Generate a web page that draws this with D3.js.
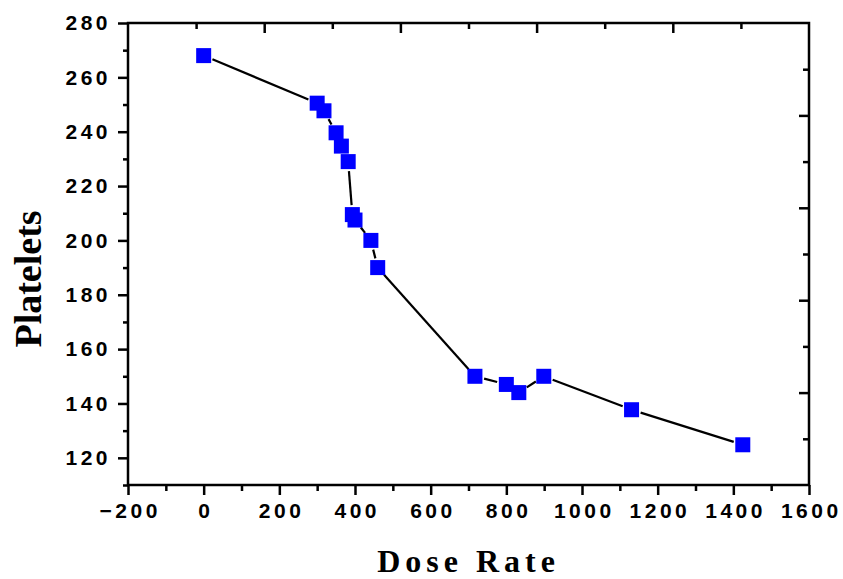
<!DOCTYPE html>
<html>
<head>
<meta charset="utf-8">
<script src="https://cdn.jsdelivr.net/npm/d3@7"></script>
<style>
  body { margin: 0; background: #fff; }
  svg { display: block; }
  .tick-label { font-family: "Liberation Sans", Arial, sans-serif; font-weight: bold; font-size: 21px; letter-spacing: 3.5px; fill: #000; }
  .axis-title { font-family: "Liberation Serif", "Times New Roman", serif; font-weight: bold; fill: #000; }
</style>
</head>
<body>
<div id="chart"></div>
<script>
"use strict";

// dose rate vs platelets
let doseRate = [0, 300, 318, 350, 364, 382, 393, 400, 442, 460, 717, 800, 833, 899, 1131, 1425];
let platelets = [268, 250.5, 247.7, 239.6, 234.7, 229, 209.5, 207.5, 200, 190, 150, 147, 144, 150, 137.7, 124.8];

let xTicks = [-200, 0, 200, 400, 600, 800, 1000, 1200, 1400, 1600];
let xMinorTicks = [-100, 100, 300, 500, 700, 900, 1100, 1300, 1500];
let yTicks = [120, 140, 160, 180, 200, 220, 240, 260, 280];
let yMinorTicks = [110, 130, 150, 170, 190, 210, 230, 250, 270];

// top / right axes of the original use their own 10-step scale
let frameMajor = [2, 4, 6, 8];
let frameMinor = [1, 3, 5, 7, 9];

let width = 843, height = 579;
let margin = { top: 23, right: 34, bottom: 94, left: 128 };
let w = width - margin.left - margin.right;
let h = height - margin.top - margin.bottom;

let svg = d3.select("#chart").append("svg")
  .attr("width", width).attr("height", height);

let g = svg.append("g").attr("transform", `translate(${margin.left},${margin.top})`);

let x = d3.scaleLinear().domain([-200, 1600]).range([0, w]);
let y = d3.scaleLinear().domain([110, 280]).range([h, 0]);
let fx = d3.scaleLinear().domain([0, 10]).range([0, w]);
let fy = d3.scaleLinear().domain([0, 10]).range([h, 0]);

function styleAxis(sel) {
  sel.select(".domain").remove();
  sel.selectAll(".tick line").attr("stroke", "#000").attr("stroke-width", 2.5);
  sel.selectAll(".tick text").attr("class", "tick-label").attr("font-size", null).attr("font-family", null);
}

// bottom axis
g.append("g").attr("transform", `translate(0,${h})`)
  .call(d3.axisBottom(x).tickValues(xTicks).tickSize(10).tickPadding(8).tickFormat(d3.format("d")))
  .call(styleAxis)
  .selectAll("text").attr("dx", "1.75px");
g.append("g").attr("transform", `translate(0,${h})`)
  .call(d3.axisBottom(x).tickValues(xMinorTicks).tickSize(6).tickFormat(""))
  .call(styleAxis);

// left axis
g.append("g")
  .call(d3.axisLeft(y).tickValues(yTicks).tickSize(10).tickPadding(7))
  .call(styleAxis);
g.append("g")
  .call(d3.axisLeft(y).tickValues(yMinorTicks).tickSize(5).tickFormat(""))
  .call(styleAxis);

// top axis, ticks inward
g.append("g")
  .call(d3.axisBottom(fx).tickValues(frameMajor).tickSize(10).tickFormat(""))
  .call(styleAxis);
g.append("g")
  .call(d3.axisBottom(fx).tickValues(frameMinor).tickSize(6).tickFormat(""))
  .call(styleAxis);

// right axis, ticks inward
g.append("g").attr("transform", `translate(${w},0)`)
  .call(d3.axisLeft(fy).tickValues(frameMajor).tickSize(10).tickFormat(""))
  .call(styleAxis);
g.append("g").attr("transform", `translate(${w},0)`)
  .call(d3.axisLeft(fy).tickValues(frameMinor).tickSize(6).tickFormat(""))
  .call(styleAxis);

// frame
g.append("rect")
  .attr("x", 0).attr("y", 0).attr("width", w).attr("height", h)
  .attr("fill", "none").attr("stroke", "#000").attr("stroke-width", 2.5);

// line segments, with a gap around each marker
let points = doseRate.map((d, i) => [x(d), y(platelets[i])]);
let gap = 9.5;
let segments = [];
for (let i = 0; i < points.length - 1; i++) {
  let [x0, y0] = points[i], [x1, y1] = points[i + 1];
  let len = Math.hypot(x1 - x0, y1 - y0);
  if (len <= gap * 2) continue;
  let ux = (x1 - x0) / len, uy = (y1 - y0) / len;
  segments.push([x0 + ux * gap, y0 + uy * gap, x1 - ux * gap, y1 - uy * gap]);
}

g.append("g").selectAll("line").data(segments).enter().append("line")
  .attr("x1", d => d[0]).attr("y1", d => d[1])
  .attr("x2", d => d[2]).attr("y2", d => d[3])
  .attr("stroke", "#000").attr("stroke-width", 2.2);

let size = 15;
g.append("g").selectAll("rect").data(points).enter().append("rect")
  .attr("x", d => d[0] - size / 2).attr("y", d => d[1] - size / 2)
  .attr("width", size).attr("height", size)
  .attr("fill", "#0000ff");

// axis titles
svg.append("text").attr("class", "axis-title")
  .attr("x", margin.left + w / 2).attr("y", 572)
  .attr("text-anchor", "middle")
  .style("font-size", "32px").style("letter-spacing", "5px")
  .text("Dose Rate");

svg.append("text").attr("class", "axis-title")
  .attr("transform", "translate(41,279) rotate(-90)")
  .attr("text-anchor", "middle")
  .style("font-size", "38px")
  .text("Platelets");
</script>
</body>
</html>
